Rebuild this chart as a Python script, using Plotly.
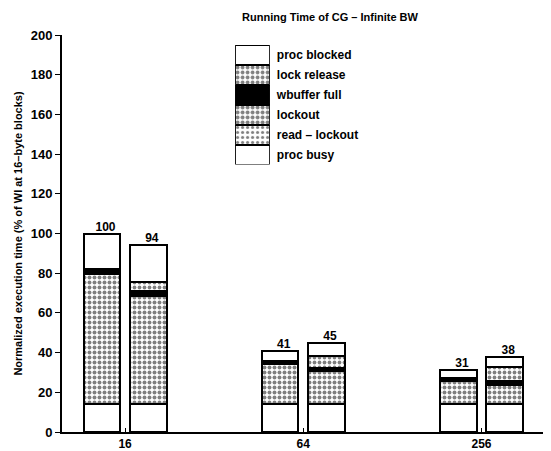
import plotly.graph_objects as go

categories = ["16", "64", "256"]
bar_x = [-0.13, 0.13, 0.87, 1.13, 1.87, 2.13]   # two configurations per block size
proc_busy = [14, 14, 14, 14, 14, 14]
read_lockout = [None, None, None, None, None, None]
lockout = [65.5, 54.5, 20.5, 16.5, 11.5, 9.5]
wbuffer_full = [2.5, 2.5, 1.5, 1.5, 1.5, 2.0]
lock_release = [None, 4.5, None, 6.5, None, 7.5]
proc_blocked = [18, 18.5, 5, 6.5, 4, 5]
totals = [100, 94, 41, 45, 31, 38]

series = [
    ("proc busy", proc_busy, dict(shape="", bgcolor="white")),
    ("read – lockout", read_lockout, dict(shape=".", fgcolor="black", bgcolor="white", size=5, solidity=0.3)),
    ("lockout", lockout, dict(shape=".", fgcolor="black", bgcolor="white", size=5, solidity=0.5)),
    ("wbuffer full", wbuffer_full, dict(shape="", bgcolor="black")),
    ("lock release", lock_release, dict(shape=".", fgcolor="black", bgcolor="white", size=5, solidity=0.45)),
    ("proc blocked", proc_blocked, dict(shape="", bgcolor="white")),
]

FONT = "Liberation Sans"

fig = go.Figure()
for name, vals, pat in series:
    color = "black" if name == "wbuffer full" else "white"
    p = dict(pat)
    fig.add_trace(go.Bar(
        x=bar_x, y=vals, name=name, width=0.205,
        marker=dict(color=color, line=dict(color="black", width=2),
                    pattern=p if p.get("shape") else None),
        showlegend=False,
    ))

fig.add_trace(go.Scatter(
    x=[x + 0.02 for x in bar_x], y=totals, mode="text", text=[str(t) for t in totals],
    textposition="top center", textfont=dict(size=12, color="black", family=FONT, weight="bold"),
    showlegend=False, cliponaxis=False,
))

# legend drawn as a stacked swatch column on a secondary axis
legend_names = [s[0] for s in series]
for i, (name, vals, pat) in enumerate(series):
    color = "black" if name == "wbuffer full" else "white"
    p = dict(pat)
    fig.add_trace(go.Bar(
        x=[0], y=[1], xaxis="x2", yaxis="y2", width=1,
        marker=dict(color=color, line=dict(color="black", width=2),
                    pattern=p if p.get("shape") else None),
        showlegend=False, hoverinfo="skip",
    ))

fig.update_layout(
    width=543, height=443,
    paper_bgcolor="white", plot_bgcolor="white",
    barmode="stack", bargap=0,
    margin=dict(l=54, r=0, t=27, b=17),
    font=dict(family=FONT, color="black"),
    title=dict(text="Running Time of CG – Infinite BW", x=0.593, xanchor="center",
               y=0.98, yanchor="middle", font=dict(size=11, color="black", weight="bold")),
    xaxis=dict(range=[-0.354, 2.39], tickvals=[0, 1, 2], ticktext=categories,
               showgrid=False, zeroline=False, showline=True, linecolor="black", linewidth=2,
               ticks="inside", ticklen=4, tickcolor="black",
               tickfont=dict(size=12, family=FONT, color="black", weight="bold")),
    yaxis=dict(range=[0, 200], tickvals=list(range(0, 201, 20)),
               showgrid=False, zeroline=False, showline=True, linecolor="black", linewidth=2,
               ticks="outside", ticklen=5, tickcolor="black",
               tickfont=dict(size=13, family=FONT, color="black", weight="bold"),
               title=dict(text="Normalized execution time (% of WI at 16–byte blocks)",
                          font=dict(size=11, color="black", weight="bold"), standoff=6)),
    xaxis2=dict(domain=[0.354, 0.425], range=[-0.5, 0.5], anchor="y2", visible=False),
    yaxis2=dict(domain=[0.674, 0.975], range=[0, 6], anchor="x2", side="right",
                tickvals=[0.5 + i for i in range(6)], ticktext=legend_names,
                showgrid=False, zeroline=False, showline=False, ticks="",
                ticklabelstandoff=6,
                tickfont=dict(size=12, family=FONT, color="black", weight="bold")),
)

fig.write_html("out.html")
